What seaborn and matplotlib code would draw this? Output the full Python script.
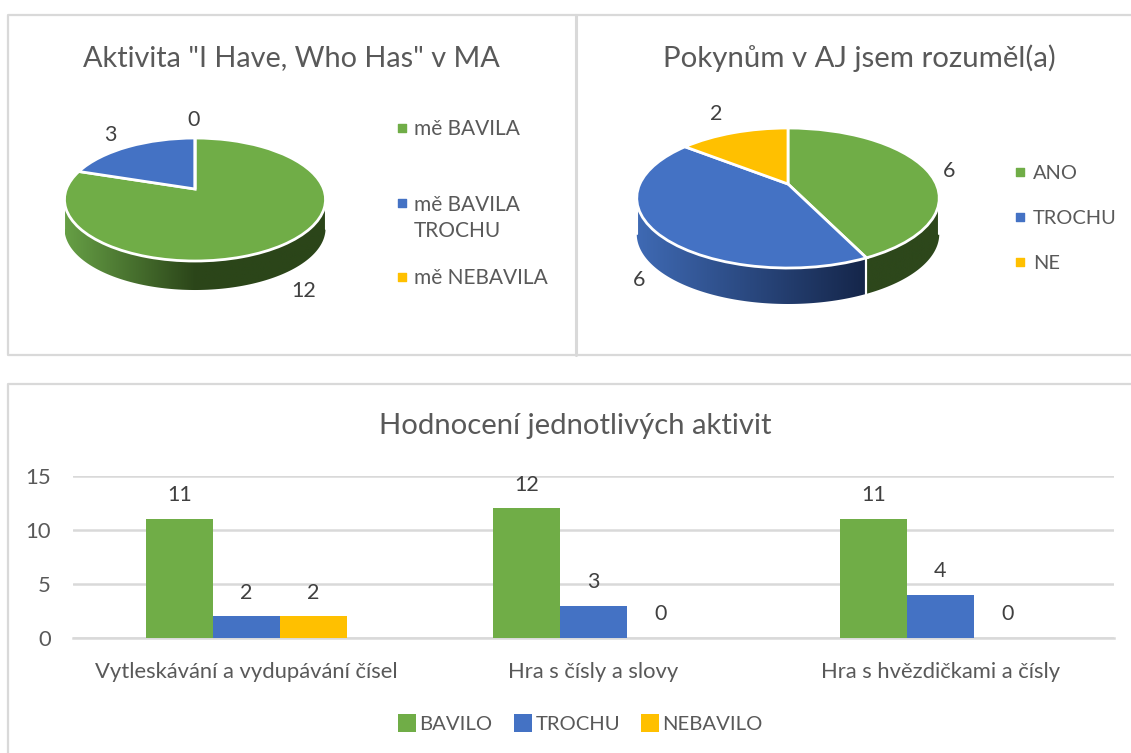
import numpy as np
import pandas as pd
import seaborn as sns
import matplotlib.pyplot as plt
from matplotlib.colors import LinearSegmentedColormap
from matplotlib.patches import Polygon
from matplotlib.transforms import Transform

# data
pie1_labels = ['mě BAVILA', 'mě BAVILA\nTROCHU', 'mě NEBAVILA']
pie1_values = [12, 3, 0]
pie2_labels = ['ANO', 'TROCHU', 'NE']
pie2_values = [6, 6, 2]
activities = ['Vytleskávání a vydupávání čísel', 'Hra s čísly a slovy', 'Hra s hvězdičkami a čísly']
bavilo = [11, 12, 11]
trochu = [2, 3, 4]
nebavilo = [2, 0, 0]

GREEN = '#70AD47'
BLUE = '#4472C4'
YELLOW = '#FFC000'
GRID = '#D9D9D9'
TITLE = '#595959'
LABEL = '#404040'

W, H = 1131, 753

sns.set_theme(style='white')
plt.rcParams['font.family'] = ['Lato', 'DejaVu Sans']

fig = plt.figure(figsize=(W / 100, H / 100), dpi=100)
bg = fig.add_axes([0, 0, 1, 1])


class Tilt(Transform):
    # unit disc -> pixels, tilted with a bit of perspective like the Excel 3D pie
    input_dims = output_dims = 2

    def __init__(self, cx, cy, c, a, k):
        super().__init__()
        self.cx, self.cy, self.c, self.a, self.k = cx, cy, c, a, k

    def transform_non_affine(self, xy):
        xy = np.asarray(xy, dtype=float)
        w = 1 + self.k * xy[:, 1]
        return np.column_stack([self.cx + self.c * xy[:, 0] / w,
                                self.cy - self.a * xy[:, 1] / w])


def pie3d(values, colors, cx, cy, c, a, k, depth, ramps):
    tilt = Tilt(cx, cy, c, a, k)
    wedges, _ = bg.pie(values, colors=colors, startangle=90, counterclock=False,
                       wedgeprops=dict(edgecolor='white', linewidth=2))
    lim = np.arcsin(k)
    start = 0
    total = sum(values)
    for value, color, ramp in zip(values, colors, ramps):
        # angles clockwise from the top, wall only on the visible front part
        t0 = max(start / total * 2 * np.pi, np.pi / 2 + lim)
        t1 = min((start + value) / total * 2 * np.pi, 3 * np.pi / 2 - lim)
        start += value
        if t1 <= t0:
            continue
        t = np.linspace(t0, t1, 120)
        rim = tilt.transform(np.column_stack([np.sin(t), np.cos(t)]))
        low = rim + [0, depth]
        poly = Polygon(np.vstack([rim, low[::-1]]), closed=True, transform=bg.transData,
                       facecolor='none', edgecolor='none')
        bg.add_patch(poly)
        cmap = LinearSegmentedColormap.from_list('wall', [r[1] for r in ramp])
        left, right = ramp[0][0], ramp[-1][0]
        im = bg.imshow(np.linspace(0, 1, 256)[None, :], cmap=cmap, aspect='auto', zorder=1,
                       extent=(left, right, rim[:, 1].max() + depth + 2, rim[:, 1].min() - 2))
        im.set_clip_path(poly)
        for x, y in [(rim[0], low[0]), (rim[-1], low[-1])]:
            bg.plot([x[0], y[0]], [x[1], y[1]], color='white', lw=1.5, zorder=1.5)
    for w in wedges:
        w.set_transform(tilt + bg.transData)
        w.set_zorder(2)


# 3D pies
pie3d(pie1_values, [GREEN, BLUE, YELLOW], 195, 189, 128.6, 59.7, 0.171, 29,
      [[(65, '#669F45'), (250, '#2B4519'), (326, '#2B4519')]] * 3)
pie3d(pie2_values, [GREEN, BLUE, YELLOW], 788, 184, 148.2, 67.2, 0.2, 36,
      [[(865, '#2D471B'), (940, '#2D471B')],
       [(636, '#3F6AB4'), (865, '#15264A')],
       [(636, YELLOW), (940, YELLOW)]])

bg.set_xlim(0, W)
bg.set_ylim(H, 0)
bg.set_aspect('auto')
bg.axis('off')

# chart frames
bg.plot([575.5, 8, 8, 575.5], [15, 15, 355, 355], color=GRID, lw=1.6, zorder=0)
bg.plot([575.5, 575.5], [15, 355], color=GRID, lw=2.2, zorder=0)
bg.plot([575.5, W], [15, 15], color=GRID, lw=1.6, zorder=0)
bg.plot([575.5, W], [355, 355], color=GRID, lw=1.6, zorder=0)
bg.plot([8, 8, W], [H, 383.5, 383.5], color=GRID, lw=1.6, zorder=0)

# titles
bg.text(291, 58, 'Aktivita "I Have, Who Has" v MA', fontsize=20.8, color=TITLE, ha='center', va='center')
bg.text(859.5, 58, 'Pokynům v AJ jsem rozuměl(a)', fontsize=21.2, color=TITLE, ha='center', va='center')
bg.text(575.5, 425.5, 'Hodnocení jednotlivých aktivit', fontsize=21.1, color=TITLE, ha='center', va='center')

# pie value labels
for x, y, v in [(304, 291, pie1_values[0]), (110, 135, pie1_values[1]), (194, 120, pie1_values[2]),
                (949, 171, pie2_values[0]), (639, 280, pie2_values[1]), (716, 114, pie2_values[2])]:
    bg.text(x, y, str(v), fontsize=15.5, color=LABEL, ha='center', va='center')

# pie legends
for y, lab, col in zip([128, 203, 277], pie1_labels, [GREEN, BLUE, YELLOW]):
    bg.scatter([402], [y], marker='s', s=36, color=col)
    bg.text(414, y + 1 if '\n' not in lab else y + 15, lab, fontsize=15, color=TITLE, va='center', linespacing=1.4)
for y, lab, col in zip([172, 217, 262], pie2_labels, [GREEN, BLUE, YELLOW]):
    bg.scatter([1020], [y], marker='s', s=36, color=col)
    bg.text(1033, y + 1, lab, fontsize=14.4, color=TITLE, va='center')

# bar chart
df = pd.DataFrame({'aktivita': activities, 'BAVILO': bavilo, 'TROCHU': trochu, 'NEBAVILO': nebavilo})
df = df.melt(id_vars='aktivita', var_name='hodnoceni', value_name='pocet')

x0, x1, y_top, y_bot = 73, 1114, 476, 638
ax = fig.add_axes([x0 / W, 1 - y_bot / H, (x1 - x0) / W, (y_bot - y_top) / H])
ax.patch.set_alpha(0)
sns.barplot(data=df, x='aktivita', y='pocet', hue='hodnoceni', ax=ax, width=0.58, gap=0,
            palette=[GREEN, BLUE, YELLOW], saturation=1, legend=False, zorder=3,
            edgecolor='none', linewidth=0)
ax.set_xlim(-0.5, 2.5)
ax.set_ylim(0, 15)
ax.set_yticks([0, 5, 10, 15])
ax.set_xlabel('')
ax.set_ylabel('')
ax.grid(axis='y', color=GRID, lw=1.8, zorder=0)
ax.set_axisbelow(True)
for s in ['top', 'left', 'right']:
    ax.spines[s].set_visible(False)
ax.spines['bottom'].set_color(GRID)
ax.spines['bottom'].set_linewidth(1.8)
ax.tick_params(axis='both', length=0, labelsize=15.8, labelcolor=TITLE)
ax.tick_params(axis='x', pad=17)
ax.tick_params(axis='y', pad=16)
for c in ax.containers:
    ax.bar_label(c, fmt='%g', padding=10, fontsize=15.5, color=LABEL)

# bar legend
for x, lab, col in zip([400, 516, 643], ['BAVILO', 'TROCHU', 'NEBAVILO'], [GREEN, BLUE, YELLOW]):
    bg.scatter([x + 7], [723], marker='s', s=150, color=col, linewidths=0)
    bg.text(x + 19.5, 724, lab, fontsize=14.6, color=TITLE, va='center')

fig.savefig('out.png', dpi=100)
